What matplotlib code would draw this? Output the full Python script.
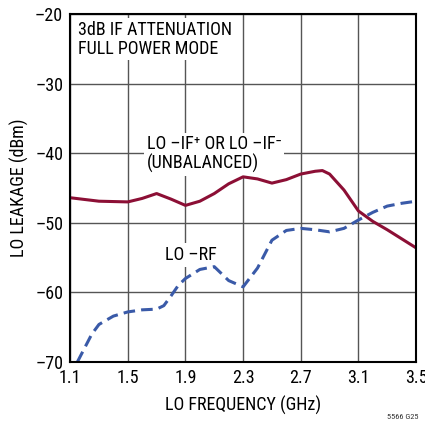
import matplotlib
matplotlib.use("Agg")
import matplotlib.pyplot as plt
import numpy as np

plt.rcParams['font.family'] = ['Roboto Condensed', 'DejaVu Sans']

# LO -IF+ or LO -IF- (unbalanced)
if_freq = [1.1, 1.3, 1.5, 1.6, 1.7, 1.8, 1.9, 2.0, 2.1, 2.2, 2.3, 2.4, 2.5,
           2.6, 2.7, 2.8, 2.85, 2.9, 3.0, 3.1, 3.2, 3.3, 3.4, 3.5]
if_leak = [-46.4, -46.9, -47.0, -46.5, -45.8, -46.6, -47.5, -46.9, -45.8, -44.4,
           -43.4, -43.7, -44.3, -43.8, -43.0, -42.6, -42.5, -43.0, -45.3, -48.3,
           -49.8, -51.0, -52.3, -53.6]

# LO -RF
rf_freq = [1.15, 1.2, 1.25, 1.3, 1.4, 1.5, 1.6, 1.7, 1.75, 1.8, 1.85, 1.9, 2.0,
           2.1, 2.2, 2.3, 2.4, 2.5, 2.6, 2.7, 2.8, 2.9, 3.0, 3.1, 3.2, 3.3, 3.4, 3.5]
rf_leak = [-70.0, -68.0, -66.0, -64.6, -63.4, -62.8, -62.5, -62.4, -61.9, -60.5,
           -59.0, -58.0, -56.7, -56.3, -58.3, -59.2, -56.5, -52.5, -51.1, -50.8,
           -51.0, -51.3, -50.8, -49.6, -48.5, -47.6, -47.2, -46.9]

xticks = [1.1, 1.5, 1.9, 2.3, 2.7, 3.1, 3.5]
yticks = [-70, -60, -50, -40, -30, -20]

fig = plt.figure(figsize=(4.25, 4.21), dpi=100)
ax = fig.add_axes([0.165, 0.140, 0.814, 0.827])

ax.plot(if_freq, if_leak, color='#8c0f35', lw=2.2, solid_capstyle='round',
        solid_joinstyle='round', zorder=4)
ax.plot(rf_freq, rf_leak, color='#3a5aa8', lw=2.2, ls=(0, (3.8, 2.0)), zorder=4)

ax.set_xlim(1.1, 3.5)
ax.set_ylim(-70, -20)
ax.set_xticks(xticks)
ax.set_yticks(yticks)
ax.set_xticklabels([f'{t:.1f}' for t in xticks])
ax.set_yticklabels([f'\u2013{abs(t)}' for t in yticks])
ax.tick_params(length=0, labelsize=13, pad=5)
ax.grid(True, color='#555555', lw=1.0)
ax.set_axisbelow(True)
for s in ax.spines.values():
    s.set_linewidth(1.5)
    s.set_zorder(5)

ax.set_xlabel('LO FREQUENCY (GHz)', fontsize=13, labelpad=6)
ax.set_ylabel('LO LEAKAGE (dBm)', fontsize=13, labelpad=4)

wb = dict(facecolor='white', edgecolor='none', pad=2)
ax.text(1.155, -21.0, '3dB IF ATTENUATION\nFULL POWER MODE', fontsize=13,
        va='top', ha='left', linespacing=1.05, bbox=wb, zorder=3)
ax.text(1.63, -37.4, 'LO \u2013IF\u207a OR LO \u2013IF\u207b\n(UNBALANCED)', fontsize=13,
        va='top', ha='left', linespacing=1.05, bbox=wb, zorder=3)
ax.text(1.76, -54.6, 'LO \u2013RF', fontsize=13, va='center', ha='left',
        bbox=wb, zorder=3)

fig.text(0.985, 0.002, '5566 G25', fontsize=6, ha='right', va='bottom', color='#333333')

fig.savefig('out.png', dpi=100)
